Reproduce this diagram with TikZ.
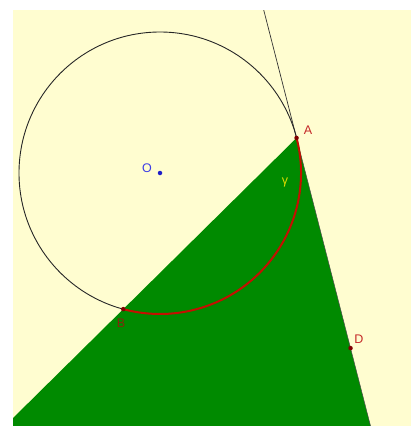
\documentclass[tikz,border=0pt]{standalone}
\usepackage{fontspec}
\setmainfont{Liberation Sans}
\usetikzlibrary{calc}
\definecolor{bgyellow}{RGB}{255,253,208}
\definecolor{polygreen}{RGB}{0,138,0}
\definecolor{arcred}{RGB}{196,16,0}
\definecolor{ptred}{RGB}{128,0,0}
\definecolor{lblred}{RGB}{196,40,40}
\definecolor{lblbrown}{RGB}{130,40,10}
\definecolor{ptblue}{RGB}{30,30,200}
\definecolor{lblblue}{RGB}{60,60,230}
\definecolor{gammay}{RGB}{220,220,0}
\tikzset{
  ptdot/.style={circle,fill=ptred,inner sep=0pt,minimum size=4.5pt},
  lbl/.style={font=\fontsize{12.5}{14}\selectfont,inner sep=0pt},
  thinline/.style={draw=black!80,line width=0.7pt}
}
\begin{document}
\begin{tikzpicture}[x=1pt,y=-1pt]
\useasboundingbox (0,0) rectangle (411,426);
\fill[white] (0,0) rectangle (411,426);
\fill[bgyellow] (13,10) rectangle (411,426);
\coordinate (O) at (160,173);
\coordinate (A) at ($(O)+(-14.4:141)$);
\coordinate (B) at ($(O)+(105.1:141)$);
\coordinate (Dp) at ($(A)+(75.6:217)$);
\coordinate (Ttop) at ($(A)+(255.6:160)$);
\coordinate (Tbot) at ($(A)+(75.6:400)$);
\coordinate (Bfar) at ($(A)!2.5!(B)$);
\begin{scope}
\clip (13,10) rectangle (411,426);
\fill[polygreen] (A) -- (Bfar) -- (-100,600) -- (Tbot) -- cycle;
\draw[thinline] (Ttop) -- (A);
\draw[black!70,line width=0.5pt] (A) -- (Tbot);
\end{scope}
\draw[black!85,line width=0.9pt] (O) circle[radius=141];
\draw[arcred,line width=2pt] (A) arc[start angle=-14.4,end angle=105.1,radius=141];
\node[ptdot] (a) at (A) {};
\node[ptdot] (b) at (B) {};
\node[ptdot] (d) at (Dp) {};
\node[circle,fill=ptblue,inner sep=0pt,minimum size=4.5pt] (o) at (O) {};
\node[lbl,text=lblred] (la) at (308,130) {A};
\node[lbl,text=lblbrown] (lb) at (121,323) {B};
\node[lbl,text=lblred] (ld) at (359,339) {D};
\node[lbl,text=lblblue] (lo) at (147,168) {O};
\node[lbl,text=gammay] (lg) at (285,182) {γ};
\end{tikzpicture}
\end{document}
